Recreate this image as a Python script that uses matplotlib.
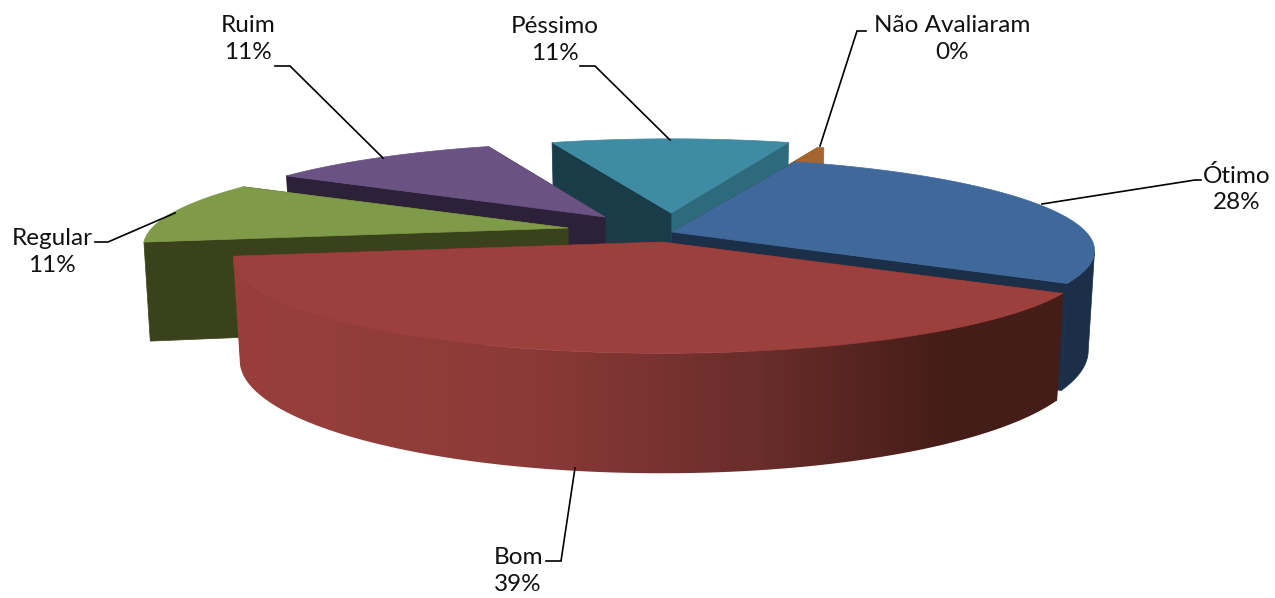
import numpy as np
import matplotlib
matplotlib.use("Agg")
import matplotlib.pyplot as plt
from matplotlib.patches import Polygon

plt.rcParams['font.family'] = ['Lato', 'DejaVu Sans']

# values
categories = ['Ótimo', 'Bom', 'Regular', 'Ruim', 'Péssimo', 'Não Avaliaram']
percent = [28, 39, 11, 11, 11, 0.3]

# look of the 3d pie
start_angle = 69.3
radius_x = [414, 420, 416, 408, 416, 416]
radius_y = 89
persp = 0.2
depth = 96
shrink = 0.985
tips = [(672, 232), (662, 242), (568, 228), (605, 217), (671, 213), (700, 218)]
top_colors = ['#40699b', '#9c403d', '#7f9a48', '#6a5283', '#3e8ba3', '#a5652f']
start_face = ['#1b2f48', '#451c18', '#39421b', '#2c2138', '#1a3c48', '#a5652f']
end_face = ['#1b2f48', '#451c18', '#39421b', '#2c2138', '#2d6b7c', '#a5652f']
wall_colors = ['#1b2f48', None, '#39421b', '#2c2138', '#2d6b7c', '#a5652f']

# side of the red slice goes dark to the right
grad_x = [240, 520, 760, 950, 1065]
grad_r = [152, 140, 105, 68, 68]
grad_g = [63, 58, 45, 28, 28]
grad_b = [59, 56, 42, 24, 24]

# label text centre, and leader line
label_pos = [(1237, 189), (518, 571), (52, 252), (248, 39), (555, 40), (952, 39)]
leaders = [
    [(1042, 204), (1195, 180), (1201, 180)],
    [(575, 468), (561, 561), (546, 561)],
    [(175, 213), (108, 242), (95, 242)],
    [(383, 158), (290, 66), (275, 66)],
    [(670, 140), (595, 66), (580, 66)],
    [(820, 146), (857, 31), (866, 31)],
]


def rim(tip, rx, t):
    # point on the disc edge, t in degrees, back of disc is farther away
    t = np.radians(t)
    u, v = np.cos(t), np.sin(t)
    w = 1 + persp * v
    return tip[0] + rx * u / w, tip[1] - radius_y * v / w, w


def lower(tip, x, y, w):
    return tip[0] + (x - tip[0]) * shrink, y + depth / w


fig = plt.figure(figsize=(12.75, 5.98), dpi=100)
ax = fig.add_axes([0, 0, 1, 1])

share = np.array(percent) / sum(percent) * 360
ends = start_angle - np.cumsum(share)
starts = ends + share

z = 1
for i in [5, 4, 3, 2, 0, 1]:
    tip = tips[i]
    ts = np.linspace(starts[i], ends[i], 200)
    xs, ys, ws = rim(tip, radius_x[i], ts)
    bx, by = lower(tip, xs, ys, ws)
    tbx, tby = tip[0], tip[1] + depth

    # cut faces, the one nearer the viewer goes last
    faces = [(0, start_face[i]), (-1, end_face[i])]
    faces.sort(key=lambda f: ys[f[0]])
    for k, col in faces:
        ax.add_patch(Polygon([tip, (xs[k], ys[k]), (bx[k], by[k]), (tbx, tby)],
                             fc=col, ec=col, lw=0.5, zorder=z))
        z += 1

    # outer wall, only past the widest point of the ellipse
    front = np.sin(np.radians(ts)) <= -persp
    if front.any():
        outline = list(zip(xs[front], ys[front])) + list(zip(bx[front][::-1], by[front][::-1]))
        if wall_colors[i] is None:
            px = np.arange(200, 1100)
            strip = np.dstack([np.interp(px, grad_x, grad_r), np.interp(px, grad_x, grad_g),
                               np.interp(px, grad_x, grad_b)]) / 255
            img = ax.imshow(strip, extent=(200, 1100, 500, 200), aspect='auto', zorder=z)
            wall = Polygon(outline, fc='none', ec='none', transform=ax.transData)
            ax.add_patch(wall)
            img.set_clip_path(wall)
        else:
            ax.add_patch(Polygon(outline, fc=wall_colors[i], ec=wall_colors[i], lw=0.5, zorder=z))
        z += 1

    # top
    ax.add_patch(Polygon([tip] + list(zip(xs, ys)), fc=top_colors[i], ec=top_colors[i], lw=0.5, zorder=z))
    z += 1

ax.set_xlim(0, 1275)
ax.set_ylim(598, 0)
ax.axis('off')

for i, name in enumerate(categories):
    pts = leaders[i]
    ax.plot([p[0] for p in pts], [p[1] for p in pts], color='black', lw=1.2,
            solid_joinstyle='miter', zorder=z)
    ax.text(label_pos[i][0], label_pos[i][1], f"{name}\n{percent[i]:.0f}%", ha='center', va='center',
            fontsize=17.5, color='#111111', linespacing=1.35, zorder=z)

fig.savefig('out.png', dpi=100, facecolor='white')
